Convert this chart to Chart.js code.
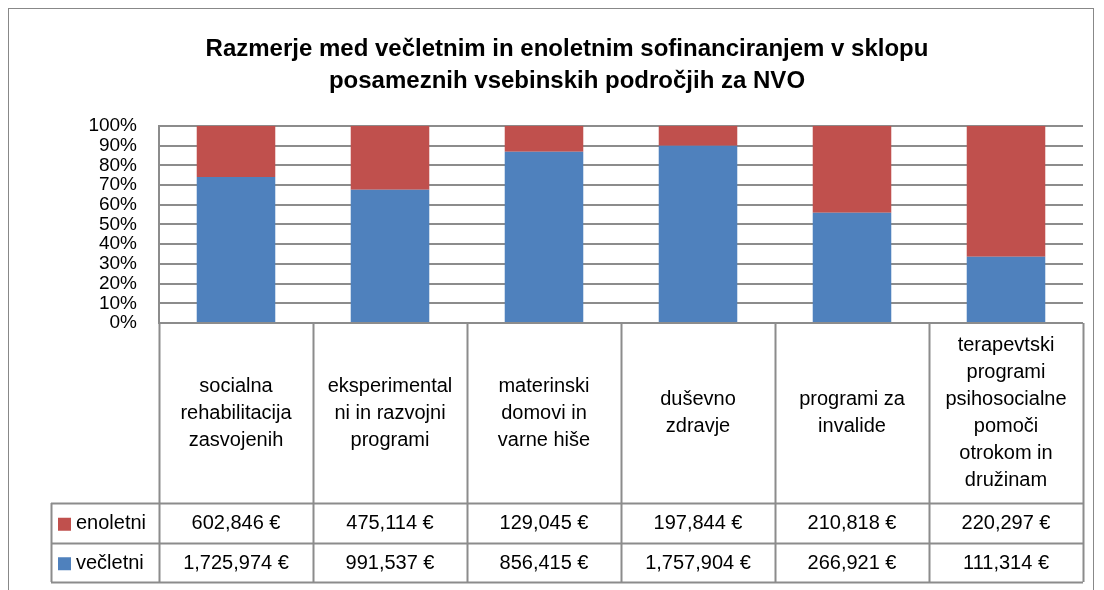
<!DOCTYPE html>
<html>
<head>
<meta charset="utf-8">
<script src="https://cdn.jsdelivr.net/npm/chart.js@4"></script>
<style>
  html, body { margin: 0; padding: 0; background: #fff; }
  #wrap { width: 1104px; height: 590px; }
</style>
</head>
<body>
<div id="wrap"><canvas id="chart" width="1104" height="590"></canvas></div>
<script>
const titleLines = [
  "Razmerje med večletnim in enoletnim sofinanciranjem v sklopu",
  "posameznih vsebinskih področjih za NVO"
];
const categories = [
  ["socialna", "rehabilitacija", "zasvojenih"],
  ["eksperimental", "ni in razvojni", "programi"],
  ["materinski", "domovi in", "varne hiše"],
  ["duševno", "zdravje"],
  ["programi za", "invalide"],
  ["terapevtski", "programi", "psihosocialne", "pomoči", "otrokom in", "družinam"]
];
const enoletni = [602846, 475114, 129045, 197844, 210818, 220297];
const vecletni = [1725974, 991537, 856415, 1757904, 266921, 111314];
const yTicks = [0, 10, 20, 30, 40, 50, 60, 70, 80, 90, 100];

const BLUE = "#4F81BD";
const RED = "#C0504D";
const GRID = "#8c8c8c";
const FONT = "'Liberation Sans', Arial, sans-serif";

// share of each part in the category total, in percent
const vecShare = vecletni.map((v, i) => (v / (v + enoletni[i])) * 100);
const enoShare = enoletni.map((v, i) => (v / (v + vecletni[i])) * 100);

const fmt = (n) => n.toLocaleString("en-US") + " €";

const tableRows = [
  { label: "enoletni", color: RED, values: enoletni },
  { label: "večletni", color: BLUE, values: vecletni }
];

const frame = {
  id: "frame",
  beforeDraw(chart) {
    const ctx = chart.ctx;
    ctx.save();
    ctx.fillStyle = "#fff";
    ctx.fillRect(0, 0, chart.width, chart.height);
    ctx.strokeStyle = "#888";
    ctx.lineWidth = 1;
    ctx.strokeRect(8.5, 8.5, 1085, 600);
    ctx.restore();
  }
};

const dataTable = {
  id: "dataTable",
  afterDraw(chart) {
    const ctx = chart.ctx;
    const x = chart.scales.x;
    const area = chart.chartArea;
    const n = categories.length;
    const colW = (x.right - x.left) / n;
    const top = area.bottom;
    const headBottom = top + 180;
    const rowH = 39.5;
    const tableLeft = 51;
    const bottom = headBottom + rowH * tableRows.length;

    ctx.save();
    ctx.strokeStyle = GRID;
    ctx.lineWidth = 2;
    ctx.beginPath();
    // vertical lines
    for (let i = 0; i <= n; i++) {
      const px = Math.round(x.left + i * colW) + 0.5;
      ctx.moveTo(px, top);
      ctx.lineTo(px, bottom);
    }
    ctx.moveTo(tableLeft + 0.5, headBottom);
    ctx.lineTo(tableLeft + 0.5, bottom);
    // horizontal lines
    for (let r = 0; r <= tableRows.length; r++) {
      const py = Math.round(headBottom + r * rowH) + 0.5;
      ctx.moveTo(tableLeft, py);
      ctx.lineTo(x.right, py);
    }
    ctx.stroke();

    ctx.fillStyle = "#000";
    ctx.font = "20px " + FONT;
    ctx.textAlign = "center";
    ctx.textBaseline = "middle";
    const lh = 27;
    categories.forEach((lines, i) => {
      const cx = x.getPixelForValue(i);
      const midY = (top + headBottom) / 2;
      const startY = midY - ((lines.length - 1) * lh) / 2;
      lines.forEach((t, k) => ctx.fillText(t, cx, startY + k * lh));
    });

    tableRows.forEach((row, r) => {
      const cy = headBottom + r * rowH + rowH / 2 + 1;
      ctx.fillStyle = row.color;
      ctx.fillRect(tableLeft + 7, cy - 6, 13, 13);
      ctx.fillStyle = "#000";
      ctx.textAlign = "left";
      ctx.fillText(row.label, tableLeft + 25, cy);
      ctx.textAlign = "center";
      row.values.forEach((v, i) => {
        ctx.fillText(fmt(v), x.getPixelForValue(i), cy);
      });
    });
    ctx.restore();
  }
};

new Chart(document.getElementById("chart"), {
  type: "bar",
  data: {
    labels: categories,
    datasets: [
      { label: "večletni", data: vecShare, backgroundColor: BLUE, barPercentage: 0.51, categoryPercentage: 1 },
      { label: "enoletni", data: enoShare, backgroundColor: RED, barPercentage: 0.51, categoryPercentage: 1 }
    ]
  },
  options: {
    responsive: false,
    animation: false,
    layout: { padding: { left: 51, right: 21, top: 0, bottom: 267 } },
    plugins: {
      legend: { display: false },
      tooltip: { enabled: false },
      title: {
        display: true,
        text: titleLines,
        color: "#000",
        font: { family: FONT, size: 24, weight: "bold", lineHeight: 1.33 },
        padding: { top: 33, bottom: 29 }
      }
    },
    scales: {
      x: {
        stacked: true,
        display: false
      },
      y: {
        stacked: true,
        min: 0,
        max: 100,
        afterFit(s) { s.width = 108; },
        afterBuildTicks(s) { s.ticks = yTicks.map((v) => ({ value: v })); },
        ticks: {
          color: "#000",
          font: { family: FONT, size: 19, lineHeight: 1 },
          padding: 22,
          autoSkip: false,
          callback: (v) => v + "%"
        },
        grid: { color: GRID, lineWidth: 2, drawTicks: false },
        border: { color: GRID, width: 2 }
      }
    }
  },
  plugins: [frame, dataTable]
});
</script>
</body>
</html>
